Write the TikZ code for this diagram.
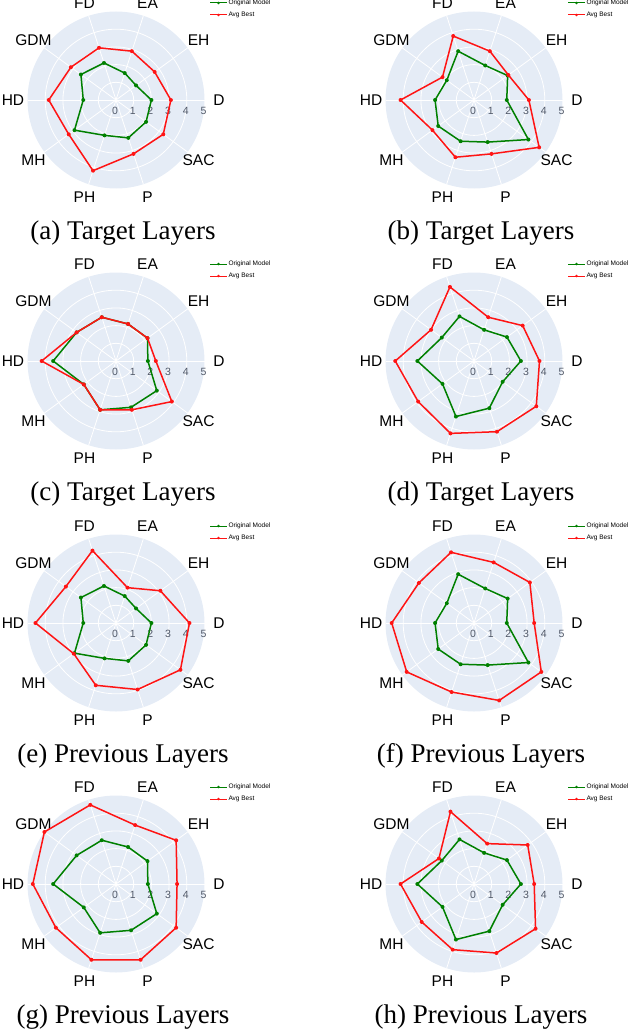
\documentclass[tikz,border=0pt]{standalone}
\usepackage{fontspec}
\setmainfont{Liberation Serif}
\newfontfamily\axfont{Liberation Sans}
\definecolor{bgc}{RGB}{229,236,246}
\definecolor{tickc}{RGB}{80,88,104}
\definecolor{gline}{RGB}{0,128,0}
\definecolor{rline}{RGB}{255,20,20}
\tikzset{
  series/.style={line width=1.5pt, line join=round},
  axlab/.style={font=\axfont\fontsize{15.5}{16}\selectfont, inner sep=0pt},
  ticklab/.style={font=\axfont\fontsize{10.5}{11}\selectfont, text=tickc, inner sep=0pt},
  leglab/.style={font=\axfont\fontsize{6.5}{7}\selectfont, anchor=west, inner sep=0pt},
  caplab/.style={font=\fontsize{27}{28}\selectfont, inner sep=0pt}
}
\newcommand\polyser[3]{% prefix, colour, values
  \foreach \v [count=\i] in {#3}
    \coordinate (#1\i) at ({-(\i-1)*36}:{\v*17.7});
  \draw[series,#2] (#11)--(#12)--(#13)--(#14)--(#15)--(#16)--(#17)--(#18)--(#19)--(#110)--cycle;
  \foreach \i in {1,...,10} \fill[#2] (#1\i) circle (2pt);
}
\newcommand\radar[6]{% id, cx, cy, green, red, caption
  \begin{scope}[shift={(#2,#3)}]
    \fill[bgc] (0,0) circle (88.5pt);
    \foreach \k in {1,2,3,4} \draw[white,line width=0.8pt] (0,0) circle ({\k*17.7pt});
    \foreach \a in {0,36,...,324} \draw[white,line width=0.8pt] (0,0) -- ({-\a}:88.5);
    \foreach \k in {0,...,5} \node[ticklab] (#1t\k) at ({\k*17.7-1},10.5) {\k};
    \foreach \nm [count=\i] in {D,EH,EA,FD,GDM,HD,MH,PH,P,SAC}
      \node[axlab] (#1l\i) at ({-(\i-1)*36}:{\ifnum\i=1 103\else\ifnum\i=6 103\else 102\fi\fi}) {\nm};
    \polyser{#1g}{gline}{#4}
    \polyser{#1r}{rline}{#5}
    \coordinate (#1la) at (94,-97);
    \coordinate (#1lb) at (111,-97);
    \draw[gline,line width=1pt] (#1la) -- (#1lb) node[leglab,black,xshift=1pt] (#1lg) {Original Model};
    \fill[gline] ($(#1la)!0.5!(#1lb)$) circle (1.3pt);
    \coordinate (#1lc) at (94,-85);
    \coordinate (#1ld) at (111,-85);
    \draw[rline,line width=1pt] (#1lc) -- (#1ld) node[leglab,black,xshift=1pt] (#1lr) {Avg Best};
    \fill[rline] ($(#1lc)!0.5!(#1ld)$) circle (1.3pt);
    \node[caplab] (#1cap) at (7,133) {#6};
  \end{scope}
}
\usetikzlibrary{calc}
\begin{document}
\begin{tikzpicture}[x=1pt,y=-1pt]
\useasboundingbox (0,0) rectangle (640,1035);
\radar{a}{116}{100}{2.0,1.4,1.6,2.2,2.45,1.85,2.9,2.1,2.25,2.1}{3.1,2.7,2.9,3.1,3.15,3.8,3.3,4.2,3.2,3.3}{(a) Target Layers}
\radar{b}{474}{100}{1.85,2.35,2.05,2.9,1.9,2.2,2.5,2.45,2.5,3.8}{3.1,2.4,2.9,3.8,2.2,4.15,2.9,3.4,3.2,4.55}{(b) Target Layers}
\radar{c}{116}{361}{1.8,2.2,2.2,2.6,2.75,3.55,2.25,2.9,2.75,2.85}{2.25,2.2,2.2,2.6,2.75,4.2,2.25,2.9,2.9,3.9}{(c) Target Layers}
\radar{d}{474}{361}{2.65,2.3,1.85,2.65,2.25,3.2,2.2,3.3,2.8,2.0}{3.7,3.4,2.6,4.4,3.0,4.45,3.9,4.3,4.2,4.35}{(d) Target Layers}
\radar{e}{116}{623}{2.0,1.4,1.6,2.2,2.45,1.85,2.9,2.1,2.25,2.1}{4.15,3.1,2.1,4.3,3.5,4.55,2.95,3.7,3.95,4.5}{(e) Previous Layers}
\radar{f}{474}{623}{1.85,2.35,2.05,2.9,1.9,2.2,2.5,2.45,2.5,3.8}{3.4,3.9,3.6,4.2,3.85,4.65,4.7,4.1,4.6,4.7}{(f) Previous Layers}
\radar{g}{116}{884}{1.8,2.2,2.2,2.6,2.75,3.55,2.25,2.9,2.75,2.85}{3.45,4.2,3.5,4.7,5.0,4.7,4.2,4.5,4.5,4.2}{(g) Previous Layers}
\radar{h}{474}{884}{2.65,2.3,1.85,2.65,2.25,3.2,2.2,3.3,2.8,2.0}{3.4,3.75,2.4,4.3,2.45,4.15,3.65,3.9,4.1,4.3}{(h) Previous Layers}
\end{tikzpicture}
\end{document}
